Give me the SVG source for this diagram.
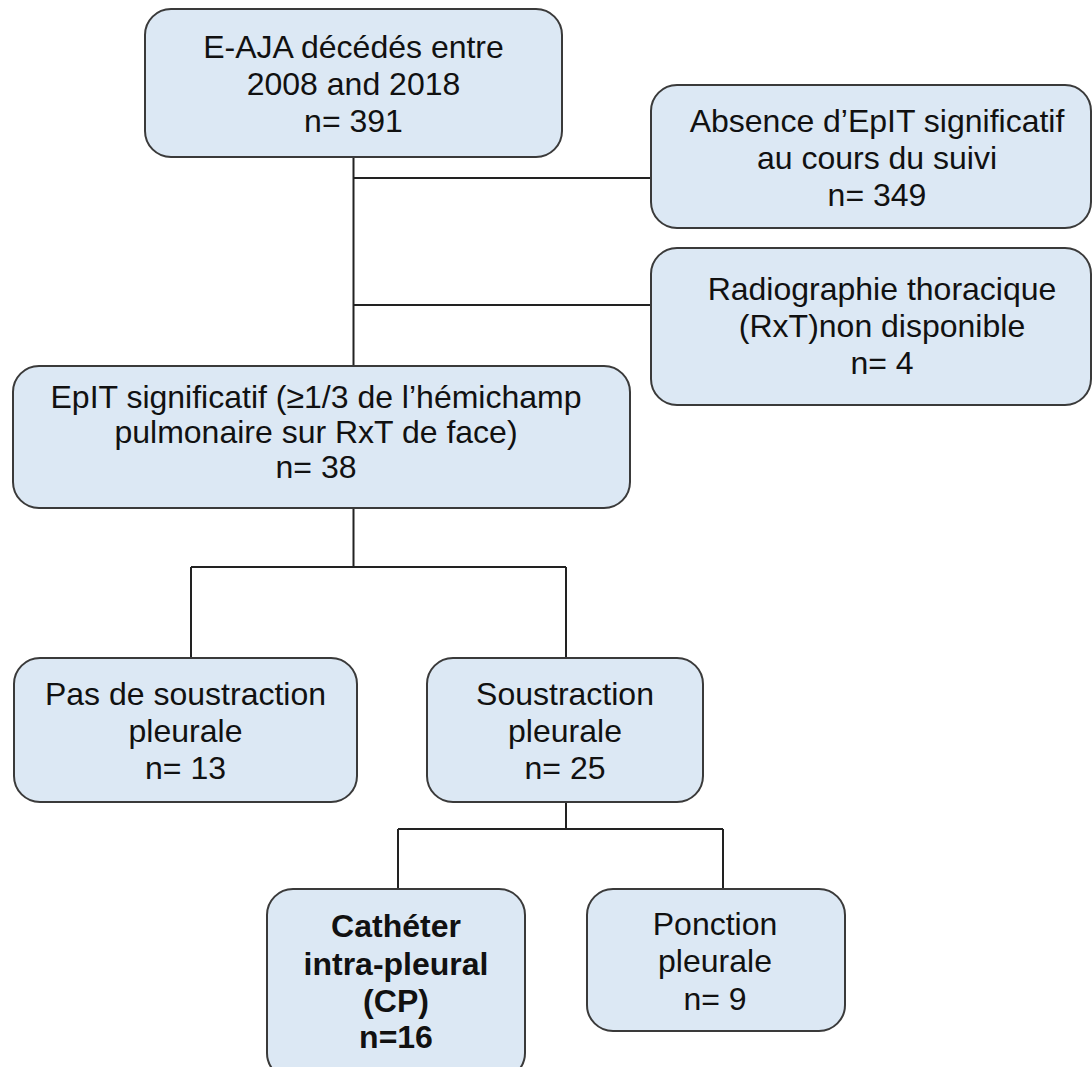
<svg xmlns="http://www.w3.org/2000/svg" width="1092" height="1067" viewBox="0 0 1092 1067">
<style>
.box{fill:#dce8f4;stroke:#3a3a3a;stroke-width:2}
.t{font-family:"Liberation Sans",Arial,sans-serif;font-size:32px;fill:#111;text-anchor:middle}
.b{font-weight:bold}
.c{fill:none;stroke:#222;stroke-width:2}
</style>
<rect width="1092" height="1067" fill="#fff"/>
<g id="connectors">
<path class="c" d="M353.5 157V366M353.5 178H651M353.5 305H651"/>
<path class="c" d="M353.5 508V567M191 567H566M191 567V658M566 567V658"/>
<path class="c" d="M566 802V829M398 829H723M398 829V889M723 829V889"/>
</g>
<g id="n1">
<rect class="box" x="145" y="9" width="417" height="148" rx="26"/>
<text class="t" x="353.5" y="58">E-AJA décédés entre</text>
<text class="t" x="353.5" y="95">2008 and 2018</text>
<text class="t" x="353.5" y="132">n= 391</text>
</g>
<g id="n2">
<rect class="box" x="651" y="85" width="440" height="143" rx="26"/>
<text class="t" x="877" y="132">Absence d’EpIT significatif</text>
<text class="t" x="877" y="169">au cours du suivi</text>
<text class="t" x="877" y="206">n= 349</text>
</g>
<g id="n3">
<rect class="box" x="651" y="248" width="440" height="157" rx="26"/>
<text class="t" x="882" y="300">Radiographie thoracique</text>
<text class="t" x="882" y="337">(RxT)non disponible</text>
<text class="t" x="882" y="374">n= 4</text>
</g>
<g id="n4">
<rect class="box" x="13" y="366" width="617" height="142" rx="26"/>
<text class="t" x="316" y="408">EpIT significatif (≥1/3 de l’hémichamp</text>
<text class="t" x="316" y="443">pulmonaire sur RxT de face)</text>
<text class="t" x="316" y="478">n= 38</text>
</g>
<g id="n5">
<rect class="box" x="14" y="658" width="343" height="144" rx="26"/>
<text class="t" x="185.5" y="705">Pas de soustraction</text>
<text class="t" x="185.5" y="742">pleurale</text>
<text class="t" x="185.5" y="779">n= 13</text>
</g>
<g id="n6">
<rect class="box" x="427" y="658" width="276" height="144" rx="26"/>
<text class="t" x="565" y="705">Soustraction</text>
<text class="t" x="565" y="742">pleurale</text>
<text class="t" x="565" y="779">n= 25</text>
</g>
<g id="n7">
<rect class="box" x="267" y="889" width="258" height="190" rx="26"/>
<text class="t b" x="396" y="937">Cathéter</text>
<text class="t b" x="396" y="975">intra-pleural</text>
<text class="t b" x="396" y="1012">(CP)</text>
<text class="t b" x="396" y="1048">n=16</text>
</g>
<g id="n8">
<rect class="box" x="587" y="889" width="258" height="142" rx="26"/>
<text class="t" x="715" y="935">Ponction</text>
<text class="t" x="715" y="972">pleurale</text>
<text class="t" x="715" y="1010">n= 9</text>
</g>
</svg>
